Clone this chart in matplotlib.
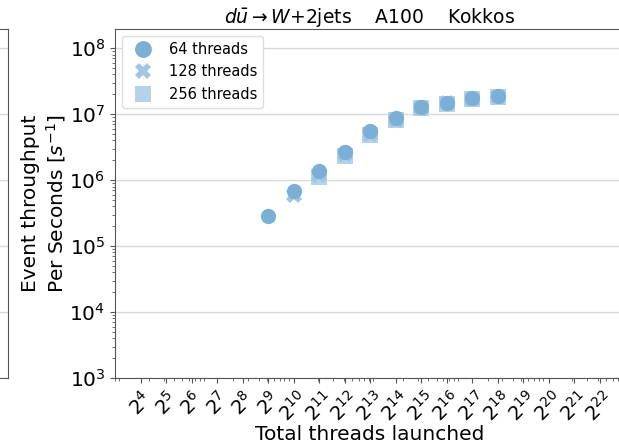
import matplotlib
matplotlib.use("Agg")
import matplotlib.pyplot as plt
import numpy as np

# total threads launched (powers of two) and throughput per block size
exp_64 = [9, 10, 11, 12, 13, 14, 15, 16, 17, 18]
rate_64 = [2.85e5, 6.8e5, 1.37e6, 2.7e6, 5.5e6, 8.7e6, 1.28e7, 1.47e7, 1.75e7, 1.86e7]

exp_128 = [10, 11, 12, 13, 14, 15, 16, 17, 18]
rate_128 = [5.9e5, 1.2e6, 2.45e6, 5.0e6, 8.2e6, 1.25e7, 1.45e7, 1.72e7, 1.84e7]

exp_256 = [11, 12, 13, 14, 15, 16, 17, 18]
rate_256 = [1.12e6, 2.35e6, 4.9e6, 8.1e6, 1.24e7, 1.44e7, 1.71e7, 1.83e7]

tick_exps = list(range(4, 23))

# label, exponents, rates, marker, colour, z-order
series = [
    ("64 threads", exp_64, rate_64, "o", "#7bafd6", 5),
    ("128 threads", exp_128, rate_128, "X", "#9fc6e3", 4),
    ("256 threads", exp_256, rate_256, "s", "#b4d3ea", 3),
]

plt.rcParams["font.family"] = "DejaVu Sans"
fig = plt.figure(figsize=(6.19, 4.44), dpi=100)

ylim = (1e3, 10 ** 8.29)
spine_col = "#555555"
grid_col = "#d9d9d9"

# right edge of the neighbouring panel
ax0 = fig.add_axes([-0.5, 0.1486, 0.5 + 8 / 619, 0.786])
ax0.set_yscale("log")
ax0.set_ylim(*ylim)
ax0.yaxis.grid(True, color=grid_col, linewidth=1)
ax0.set_xticks([])
ax0.tick_params(axis="y", which="both", labelleft=False, length=0)
for s in ax0.spines.values():
    s.set_color(spine_col)

ax = fig.add_axes([115 / 619, 0.1486, 510 / 619, 0.786])
for label, ex, rate, mk, col, z in series:
    x = [2.0 ** e for e in ex]
    ax.errorbar(x, rate, yerr=np.zeros(len(rate)), fmt=mk, color=col,
                markersize=11, markeredgewidth=0, zorder=z,
                ecolor="#e8f1f8", elinewidth=0.8, label=label)

ax.set_xscale("log")
ax.set_yscale("log")
ax.set_xlim(2.0 ** 3, 2.0 ** 23)
ax.set_ylim(*ylim)
ax.set_xticks([2.0 ** e for e in tick_exps])
ax.set_xticklabels([rf"$2^{{{e}}}$" for e in tick_exps], rotation=45, fontsize=14)
ax.tick_params(axis="y", labelsize=14.5)
ax.tick_params(axis="both", which="both", color=spine_col)
ax.yaxis.grid(True, color=grid_col, linewidth=1)
ax.set_axisbelow(True)
for s in ax.spines.values():
    s.set_color(spine_col)

ax.set_xlabel("Total threads launched", fontsize=14.5, labelpad=0)
ax.set_ylabel("Event throughput\nPer Seconds [$s^{-1}$]", fontsize=14.5, labelpad=1)
ax.set_title(r"$d\bar{u} \rightarrow W$+2jets    A100    Kokkos", fontsize=13.5, pad=4)
ax.legend(loc="upper left", fontsize=10.5, framealpha=1, edgecolor="#dddddd",
          markerscale=1.1)

fig.savefig("out.png", dpi=100)
